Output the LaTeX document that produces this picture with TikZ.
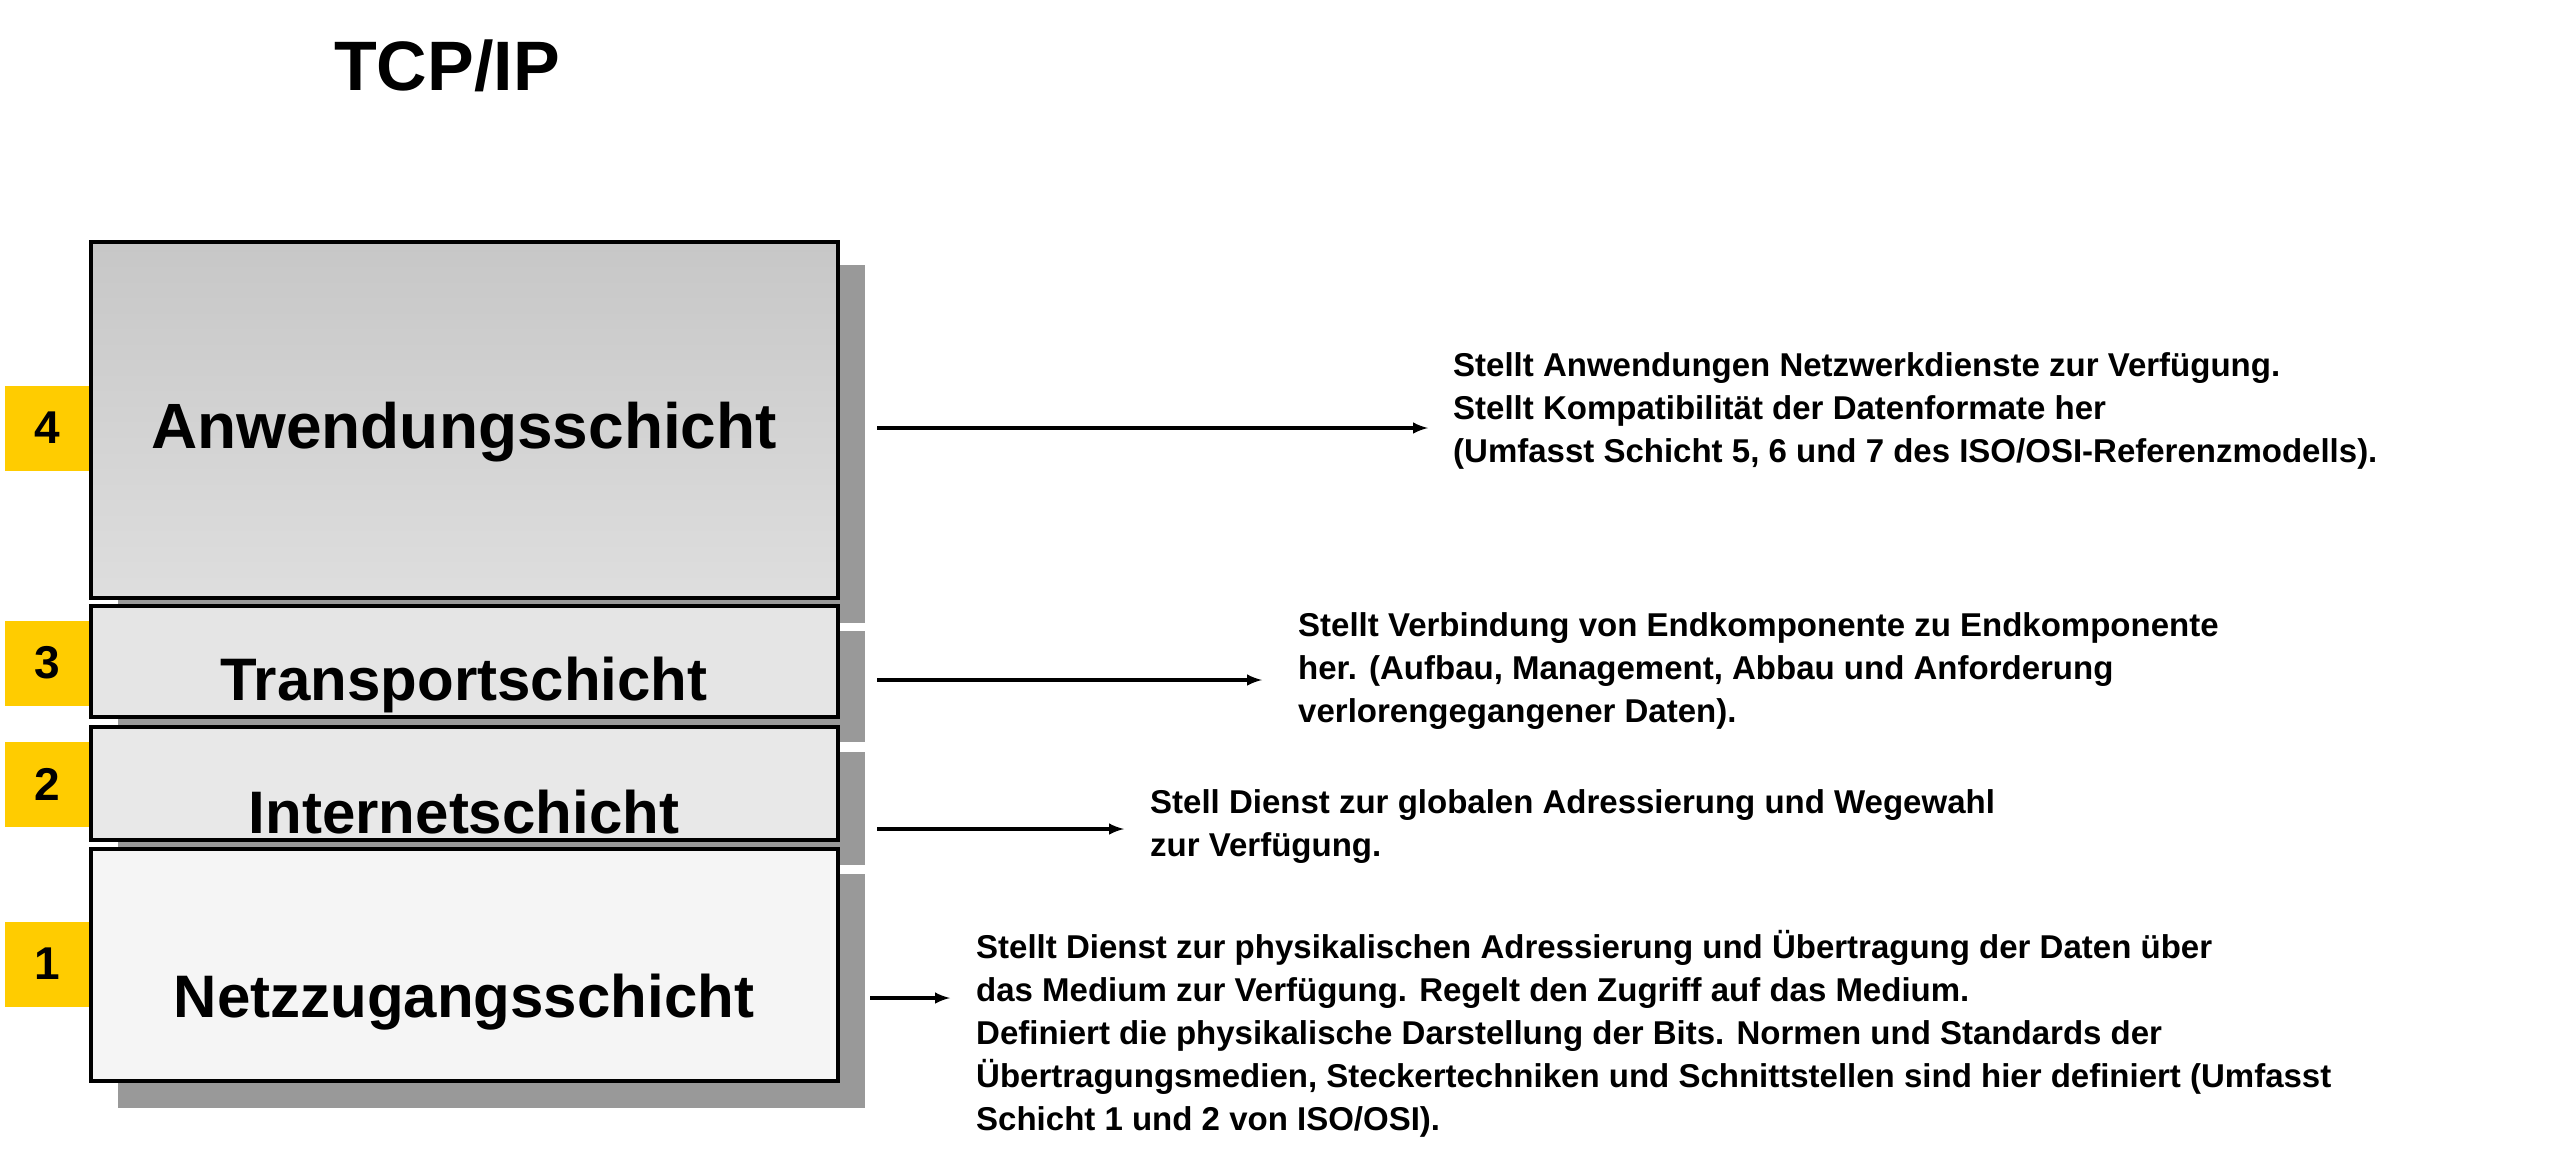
\documentclass[tikz,border=0pt]{standalone}
\usepackage{fontspec}
\setmainfont{Liberation Sans}
\begin{document}
\begin{tikzpicture}[x=1pt,y=-1pt,->,>=latex]
      \tikzstyle{layer}=[draw=black,line width=4pt,inner sep=0pt];
      \tikzstyle{shadow}=[fill=black!40];
      \tikzstyle{num}=[fill={rgb,255:red,255;green,204;blue,0},minimum width=84pt,minimum height=85pt,inner sep=0pt,font=\fontsize{46}{46}\bfseries];
      \tikzstyle{desc}=[anchor=north west,inner sep=0pt,align=left,font=\fontsize{33}{43}\bfseries];
      \tikzstyle{arr}=[line width=4pt];
      \useasboundingbox (0,0) rectangle (2563,1164);

      \node[font=\fontsize{70}{70}\bfseries](title) at (447,66) {TCP/IP};

      % shadows and layers
      \path[shadow] (118,265) rectangle (865,623);
      \path[layer,top color=black!22,bottom color=black!13] (91,242) rectangle (838,598);
      \path[shadow] (118,631) rectangle (865,742);
      \path[layer,fill=black!10] (91,606) rectangle (838,717);
      \path[shadow] (118,752) rectangle (865,865);
      \path[layer,fill=black!9] (91,727) rectangle (838,840);
      \path[shadow] (118,874) rectangle (865,1108);
      \path[layer,fill=black!4] (91,849) rectangle (838,1081);

      \node[font=\fontsize{64}{64}\bfseries](L4) at (464,432) {Anwendungsschicht};
      \node[font=\fontsize{60}{60}\bfseries](L3) at (464,685) {Transportschicht};
      \node[font=\fontsize{60}{60}\bfseries](L2) at (464,812) {Internetschicht};
      \node[font=\fontsize{60}{60}\bfseries](L1) at (464,1002) {Netzzugangsschicht};

      \node[num](N4) at (47,428) {4};
      \node[num](N3) at (47,663) {3};
      \node[num](N2) at (47,784) {2};
      \node[num](N1) at (47,964) {1};

      \node[desc](D4) at (1453,352) {Stellt Anwendungen Netzwerkdienste zur Verfügung.\\
        Stellt Kompatibilität der Datenformate her\\
        (Umfasst Schicht 5, 6 und 7 des ISO/OSI-Referenzmodells).};
      \node[desc](D3) at (1298,612) {Stellt Verbindung von Endkomponente zu Endkomponente\\
        her. (Aufbau, Management, Abbau und Anforderung\\
        verlorengegangener Daten).};
      \node[desc](D2) at (1150,789) {Stell Dienst zur globalen Adressierung und Wegewahl\\
        zur Verfügung.};
      \node[desc](D1) at (976,930) {Stellt Dienst zur physikalischen Adressierung und Übertragung der Daten über\\
        das Medium zur Verfügung. Regelt den Zugriff auf das Medium.\\
        Definiert die physikalische Darstellung der Bits. Normen und Standards der\\
        Übertragungsmedien, Steckertechniken und Schnittstellen sind hier definiert (Umfasst\\
        Schicht 1 und 2 von ISO/OSI).};

      \coordinate (S4) at (877,428);
      \coordinate (E4) at (1428,428);
      \coordinate (S3) at (877,680);
      \coordinate (E3) at (1262,680);
      \coordinate (S2) at (877,829);
      \coordinate (E2) at (1124,829);
      \coordinate (S1) at (870,998);
      \coordinate (E1) at (950,998);

      \draw[arr] (S4) -- (E4);
      \draw[arr] (S3) -- (E3);
      \draw[arr] (S2) -- (E2);
      \draw[arr] (S1) -- (E1);

    \end{tikzpicture}
\end{document}
